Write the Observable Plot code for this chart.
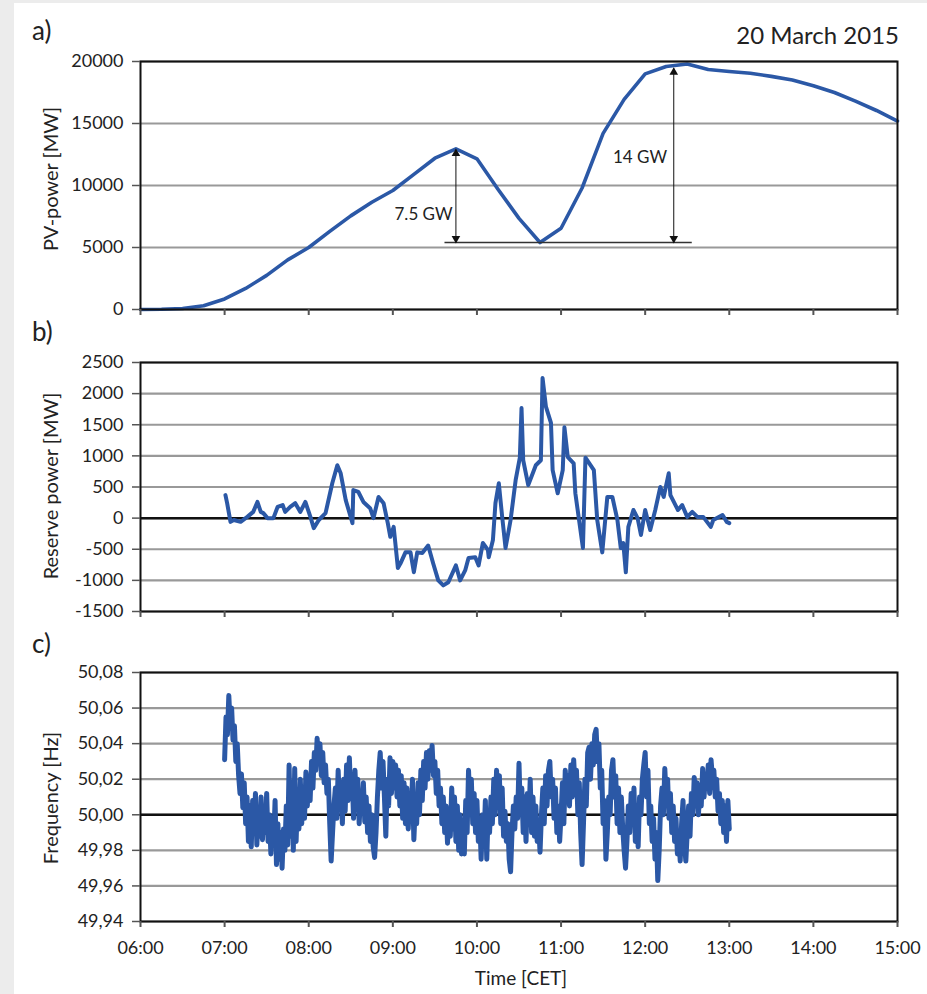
<!DOCTYPE html>
<html><head><meta charset="utf-8">
<script src="https://cdn.jsdelivr.net/npm/d3@7"></script>
<script src="https://cdn.jsdelivr.net/npm/@observablehq/plot@0.6"></script>
<style>
html,body{margin:0;padding:0;background:#ececec;width:927px;height:994px;overflow:hidden;}
#page{position:absolute;left:14px;top:3px;width:913px;height:991px;background:#fff;}
#root{position:absolute;left:0;top:0;width:927px;height:994px;font-family:Lato,sans-serif;color:#222;}
.t{position:absolute;white-space:nowrap;line-height:1;}
.ylab{position:absolute;white-space:nowrap;line-height:1;font-size:20px;transform:translate(-50%,-50%) rotate(-90deg);}
.panel{position:absolute;left:0;}
.panel svg{overflow:visible;}
</style></head>
<body>
<div id="page"></div>
<div id="root">
  <div class="t" style="left:32px;top:17px;font-size:26px;">a)</div>
  <div class="t" style="right:28px;top:23px;font-size:24px;">20 March 2015</div>
  <div class="t" style="left:32px;top:318px;font-size:26px;">b)</div>
  <div class="t" style="left:32px;top:630px;font-size:26px;">c)</div>
  <div class="ylab" style="left:50px;top:179px;">PV-power [MW]</div>
  <div class="ylab" style="left:50px;top:486px;">Reserve power [MW]</div>
  <div class="ylab" style="left:50px;top:798px;">Frequency [Hz]</div>
  <div class="t" style="left:521px;top:977px;font-size:19px;transform:translate(-50%,-50%);">Time [CET]</div>
  <div id="pa" class="panel" style="top:0px;"></div>
  <div id="pb" class="panel" style="top:340px;"></div>
  <div id="pc" class="panel" style="top:650px;"></div>
</div>
<script>
// ---------- data ----------
const hourTicks = [6, 7, 8, 9, 10, 11, 12, 13, 14, 15];
const hourLabels = ["06:00","07:00","08:00","09:00","10:00","11:00","12:00","13:00","14:00","15:00"];

const pvTicks = [0, 5000, 10000, 15000, 20000];
const pvTime = [6.00,6.25,6.50,6.75,7.00,7.25,7.50,7.75,8.00,8.25,8.50,8.75,9.00,9.25,9.50,9.75,10.00,10.25,10.50,10.75,11.00,11.25,11.50,11.75,12.00,12.25,12.50,12.75,13.00,13.25,13.50,13.75,14.00,14.25,14.50,14.75,15.00];
const pvPower = [0,20,80,300,850,1700,2750,4000,5000,6300,7550,8650,9600,10900,12200,12950,12150,9700,7350,5400,6550,9800,14200,16950,19000,19600,19800,19350,19200,19050,18800,18500,18050,17500,16800,16050,15200];

const annoArrowX = [9.75, 12.34];
const annoArrowTop = [12900, 19450];
const annoBase = 5400;
const annoBaseFrom = 9.62, annoBaseTo = 12.56;
const annoLabels = ["7.5 GW", "14 GW"];
const annoLabelX = [9.71, 12.26];
const annoLabelY = [7650, 12250];

const resTicks = [-1500, -1000, -500, 0, 500, 1000, 1500, 2000, 2500];
const resTime = [7.01,7.03,7.07,7.11,7.19,7.27,7.34,7.39,7.43,7.46,7.51,7.58,7.63,7.69,7.72,7.78,7.84,7.90,7.96,8.02,8.06,8.12,8.20,8.28,8.34,8.38,8.44,8.52,8.53,8.59,8.65,8.73,8.77,8.83,8.89,8.94,8.97,9.01,9.06,9.09,9.15,9.21,9.25,9.29,9.35,9.42,9.48,9.54,9.60,9.66,9.75,9.80,9.86,9.90,9.98,10.02,10.07,10.13,10.14,10.19,10.22,10.26,10.30,10.34,10.40,10.46,10.51,10.53,10.55,10.61,10.70,10.76,10.78,10.82,10.88,10.90,10.96,11.02,11.04,11.08,11.15,11.17,11.26,11.29,11.39,11.43,11.49,11.55,11.61,11.67,11.71,11.74,11.77,11.80,11.86,11.91,11.95,12.00,12.06,12.12,12.18,12.22,12.28,12.30,12.39,12.44,12.50,12.56,12.62,12.69,12.78,12.81,12.92,12.97,13.00];
const resPower = [370,240,-60,-30,-60,20,100,260,100,80,0,0,180,210,100,180,240,100,260,20,-160,-30,80,560,850,720,290,-80,450,420,260,160,0,340,240,-80,-300,-140,-800,-730,-550,-550,-870,-550,-560,-440,-730,-1000,-1080,-1030,-760,-1000,-840,-640,-630,-760,-400,-510,-630,-350,240,560,20,-480,-30,610,970,1770,930,530,850,930,2250,1790,1530,770,400,770,1460,980,880,400,-480,970,770,-30,-550,340,340,-30,-480,-400,-870,-140,130,0,-270,130,-190,130,500,340,720,370,130,210,20,100,20,20,-140,-30,50,-60,-80];

const freqTicks = [49.94, 49.96, 49.98, 50.00, 50.02, 50.04, 50.06, 50.08];
const freqStartHour = 7;      // one reading per minute from 07:00 to 13:00
const freqValues = [
 50.031,50.055,50.045,50.067,50.050,50.060,50.042,50.050,50.030,50.040,50.022,
 50.012,50.023,50.004,50.018,49.995,50.010,49.985,50.005,49.982,50.008,
 49.990,50.012,49.983,50.002,49.988,50.010,49.986,50.003,49.990,50.012,
 49.985,50.000,49.978,49.998,49.985,50.008,49.972,49.995,49.975,49.990,
 49.970,49.992,49.980,50.005,49.983,50.028,49.988,50.018,49.980,50.026,
 49.985,50.010,49.992,50.020,49.995,50.015,49.998,50.024,50.005,
 50.022,50.008,50.030,50.015,50.035,50.025,50.043,50.030,50.040,50.022,
 50.035,50.018,50.028,50.012,50.020,49.995,49.974,49.990,50.005,50.015,
 49.998,50.025,50.005,50.018,49.995,50.020,50.002,50.028,50.008,50.032,
 50.010,50.022,49.998,50.025,50.005,50.020,49.995,50.012,50.002,50.018,
 49.996,50.010,49.990,50.005,49.985,50.000,49.982,49.976,49.990,50.010,
 50.025,50.035,50.015,50.030,50.010,49.988,50.020,50.005,50.032,50.012,
 50.030,50.015,50.028,50.010,50.025,50.005,50.022,49.998,50.018,49.995,
 50.015,49.992,50.012,50.000,50.020,49.986,50.005,49.995,50.018,50.000,
 50.025,50.008,50.030,50.015,50.035,50.020,50.036,50.025,50.039,50.022,
 50.030,50.012,50.025,50.005,50.015,49.995,50.010,49.990,50.005,49.984,
 50.002,49.988,50.015,49.992,50.010,49.985,50.005,49.980,50.000,49.978,
 49.995,49.978,50.008,49.990,50.025,50.005,50.020,49.995,50.012,49.990,
 50.008,49.985,49.998,49.975,50.000,49.985,50.008,49.975,50.002,49.990,
 50.010,49.995,50.020,50.000,50.025,50.005,50.022,49.995,50.015,49.988,
 50.002,49.985,49.995,49.975,49.968,49.990,50.005,49.992,50.010,49.998,
 50.029,50.000,50.015,49.990,50.010,49.985,50.012,49.995,50.020,49.990,
 50.010,49.988,50.005,49.985,49.995,49.979,50.000,50.015,49.995,50.022,
 50.005,50.025,50.030,50.010,50.020,49.998,50.015,49.990,50.005,49.985,
 50.000,50.018,49.995,50.025,50.008,50.022,50.005,50.028,50.010,50.031,
 50.015,50.025,50.000,50.018,49.990,49.972,49.995,50.020,50.005,50.035,
 50.038,50.020,50.040,50.028,50.045,50.048,50.030,50.040,50.015,50.025,
 49.995,50.008,49.975,49.990,50.010,50.000,50.025,50.031,50.010,50.022,
 49.995,50.015,49.990,50.010,49.992,49.980,49.970,49.985,50.005,49.990,
 50.012,49.995,50.015,49.985,50.005,49.982,50.010,50.000,50.020,50.028,
 50.035,50.010,50.025,49.995,50.005,49.985,49.998,49.975,49.990,49.963,
 49.980,50.005,50.015,50.000,50.026,50.010,50.020,49.998,50.012,49.990,
 50.005,49.985,49.998,49.978,49.990,49.974,49.995,50.008,49.985,49.974,
 49.990,50.005,49.988,50.012,50.000,50.021,50.005,50.018,50.000,50.015,
 50.005,50.026,50.010,50.022,50.015,50.028,50.012,50.031,50.020,50.025,
 50.010,50.020,50.002,50.012,49.995,50.008,49.990,50.005,49.985,50.008,49.992
];

// ---------- helpers ----------
const blue = "#2b58a6";
const gridColor = "#999999";
const tickColor = "#555";
const font = "Lato, sans-serif";
const hourFmt = d => hourLabels[hourTicks.indexOf(d)];

function basePlot(opts) {
  return Object.assign({
    width: 927,
    marginLeft: 140,
    marginRight: 30,
    style: {fontFamily: font, fontSize: "18px", color: "#222", background: "transparent", overflow: "visible"}
  }, opts);
}

function yAxis(ticks, fmt) {
  return Plot.axisY(ticks, {tickSize: 8, tickPadding: 9, tickFormat: fmt, stroke: tickColor, strokeWidth: 1.5, fill: "#222", label: null});
}
function xAxis(showLabels) {
  return Plot.axisX(hourTicks, {
    tickSize: 6, tickPadding: 14, stroke: tickColor, strokeWidth: 2,
    tickFormat: showLabels ? hourFmt : () => "", fill: "#222", label: null
  });
}

// ---------- panel a ----------
const pvData = pvTime.map((t, i) => ({t, v: pvPower[i]}));
const arrows = annoArrowX.map((x, i) => ({x, top: annoArrowTop[i]}));
const labels = annoLabels.map((s, i) => ({s, x: annoLabelX[i], y: annoLabelY[i]}));

const pa = Plot.plot(basePlot({
  height: 324, marginTop: 61, marginBottom: 15,
  x: {domain: [6, 15]},
  y: {domain: [0, 20000]},
  marks: [
    Plot.gridY(pvTicks, {stroke: gridColor, strokeOpacity: 1, strokeWidth: 2.2}),
    Plot.line(pvData, {x: "t", y: "v", stroke: blue, strokeWidth: 3.6, strokeLinejoin: "round"}),
    Plot.ruleY([annoBase], {x1: annoBaseFrom, x2: annoBaseTo, stroke: "#333", strokeWidth: 1.5}),
    Plot.link(arrows, {x1: "x", x2: "x", y1: annoBase, y2: "top", stroke: "#111", strokeWidth: 1}),
    Plot.dot(arrows, {x: "x", y: "top", symbol: "triangle", r: 3.2, fill: "#111", stroke: null, dy: 4}),
    Plot.dot(arrows, {x: "x", y: annoBase, symbol: "triangle", r: 3.2, fill: "#111", stroke: null, rotate: 180, dy: -4}),
    Plot.text(labels, {x: "x", y: "y", text: "s", textAnchor: "end", fontSize: 17, fill: "#222"}),
    Plot.frame({stroke: "#111", strokeWidth: 2}),
    yAxis(pvTicks, d => String(d)),
    xAxis(false)
  ]
}));
document.getElementById("pa").appendChild(pa);

// ---------- panel b ----------
const resData = resTime.map((t, i) => ({t, v: resPower[i]}));
const pb = Plot.plot(basePlot({
  height: 286, marginTop: 22, marginBottom: 15,
  x: {domain: [6, 15]},
  y: {domain: [-1500, 2500]},
  marks: [
    Plot.gridY(resTicks, {stroke: gridColor, strokeOpacity: 1, strokeWidth: 2.2}),
    Plot.ruleY([0], {stroke: "#111", strokeWidth: 2.5}),
    Plot.line(resData, {x: "t", y: "v", stroke: blue, strokeWidth: 4, strokeLinejoin: "round"}),
    Plot.frame({stroke: "#111", strokeWidth: 2}),
    yAxis(resTicks, d => String(d)),
    xAxis(false)
  ]
}));
document.getElementById("pb").appendChild(pb);

// ---------- panel c ----------
const freqData = freqValues.map((v, i) => ({t: freqStartHour + i / 60, v}));
const pc = Plot.plot(basePlot({
  height: 344, marginTop: 22, marginBottom: 73,
  x: {domain: [6, 15]},
  y: {domain: [49.94, 50.08]},
  marks: [
    Plot.gridY(freqTicks, {stroke: gridColor, strokeOpacity: 1, strokeWidth: 2.2}),
    Plot.ruleY([50], {stroke: "#111", strokeWidth: 2.5}),
    Plot.line(freqData, {x: "t", y: "v", stroke: blue, strokeWidth: 5, strokeLinejoin: "round"}),
    Plot.frame({stroke: "#111", strokeWidth: 2}),
    yAxis(freqTicks, d => d.toFixed(2).replace(".", ",")),
    xAxis(true)
  ]
}));
document.getElementById("pc").appendChild(pc);
</script>
</body></html>
